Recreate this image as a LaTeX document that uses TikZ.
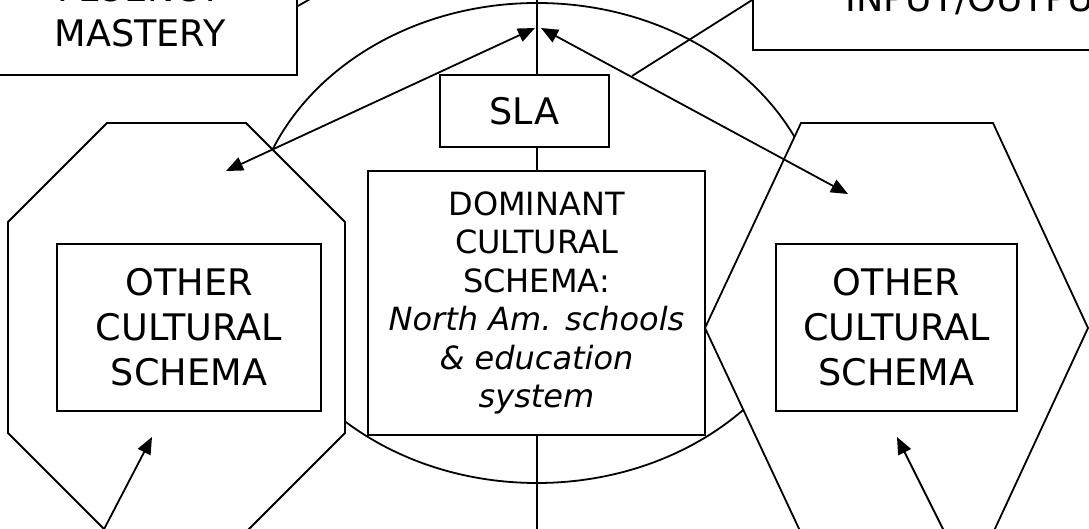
\documentclass[tikz,border=0pt]{standalone}
\usepackage{fontspec}
\setmainfont{DejaVu Sans}
\usetikzlibrary{arrows.meta}

\tikzset{
  schema/.style={draw, fill=white, align=center, inner sep=0pt,
    font=\fontsize{18.3}{22.5}\selectfont},
  dominant/.style={draw, fill=white, align=center, inner sep=0pt,
    font=\fontsize{16}{19.25}\selectfont},
  link/.style={{Triangle[length=8.5pt,width=7pt]}-{Triangle[length=8.5pt,width=7pt]}},
  tolink/.style={-{Triangle[length=8.5pt,width=7pt]}}
}

\begin{document}
\begin{tikzpicture}[x=0.5pt, y=-0.5pt, line width=0.9pt]
     \useasboundingbox (0,0) rectangle (1089,529);
     \clip (0,0) rectangle (1089,529);
     % axis and the big ellipse
     \coordinate (axtop) at (537,-5);
     \coordinate (axbot) at (537,540);
     \draw (axtop) -- (axbot);
     \draw (537,243) ellipse [x radius=143.5pt, y radius=120pt];
     % boxes along the top
     \node [schema, minimum width=157pt, minimum height=64pt] (mastery) at (140,11) {FLUENCY\\MASTERY};
     \node [schema, minimum width=217pt, minimum height=50pt, anchor=south west] (inout) at (752,51) {INPUT/OUTPU};
     \coordinate (fluencyend) at (312,-2);
     \coordinate (inoutend) at (632,76);
     \draw ([yshift=2.5pt]mastery.east) -- (fluencyend);
     \draw (inoutend) -- (inout.west);
     % octagon on the left, hexagon on the right
     \draw [fill=white] (107,123) -- (246,123) -- (345,222) -- (345,433) -- (246,532) -- (107,532) -- (8,433) -- (8,222) -- cycle;
     \draw [fill=white] (801,123) -- (993,123) -- (1088,328) -- (993,533) -- (801,533) -- (705,328) -- cycle;
     % schema boxes
     \node [schema, minimum width=132pt, minimum height=83.5pt] (otherL) at (189,327.5) {OTHER\\CULTURAL\\SCHEMA};
     \node [schema, minimum width=120.5pt, minimum height=83.5pt] (otherR) at (896.5,327.5) {OTHER\\CULTURAL\\SCHEMA};
     \node [schema, minimum width=84.5pt, minimum height=36pt] (sla) at (524.5,111) {SLA};
     \node [dominant, minimum width=168.5pt, minimum height=132pt] (dom) at (536.5,303) {DOMINANT\\CULTURAL\\SCHEMA:\\\textit{North Am. schools}\\\textit{\& education}\\\textit{system}};
     % arrows
     \coordinate (topL) at (535,28);
     \coordinate (topR) at (541,28);
     \coordinate (inL) at (226,171);
     \coordinate (inR) at (848,194);
     \coordinate (footL) at (101,535);
     \coordinate (footR) at (946,535);
     \coordinate (tipL) at (152,437);
     \coordinate (tipR) at (897,437);
     \draw [link] (inL) -- (topL);
     \draw [link] (topR) -- (inR);
     \draw [tolink] (footL) -- (tipL);
     \draw [tolink] (footR) -- (tipR);
 \end{tikzpicture}
\end{document}
